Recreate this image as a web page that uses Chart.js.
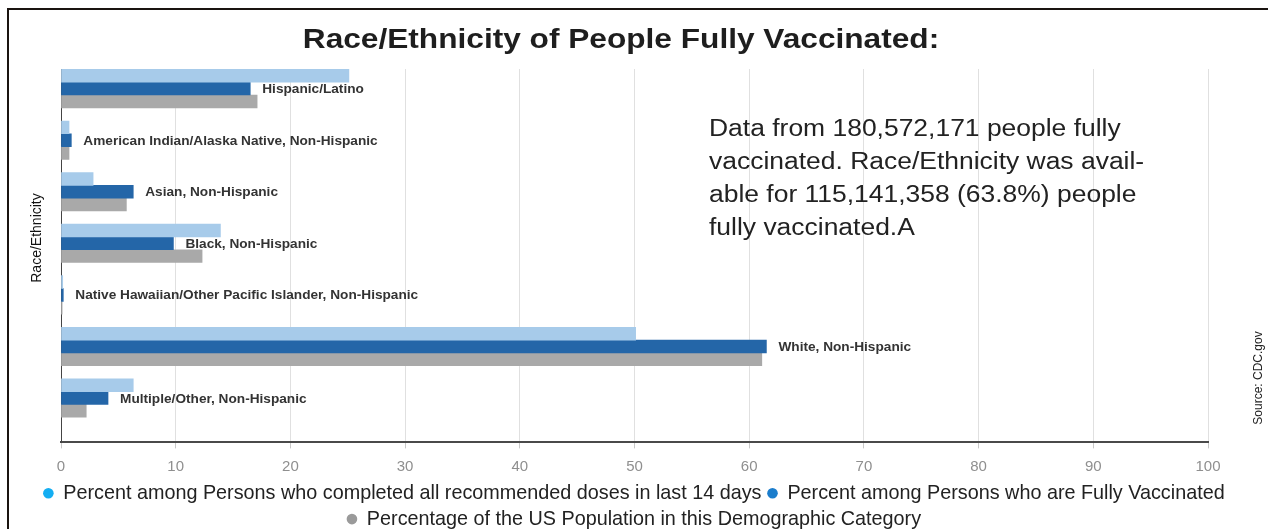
<!DOCTYPE html>
<html>
<head>
<meta charset="utf-8">
<script src="https://cdn.jsdelivr.net/npm/chart.js@4.4.1/dist/chart.umd.min.js"></script>
<style>
html,body{margin:0;padding:0;background:#fff;}
#wrap{position:relative;width:1268px;height:529px;overflow:hidden;}
#frame{position:absolute;left:7px;top:8px;right:-5px;bottom:-5px;border-left:2px solid #1a1410;border-top:2px solid #1a1410;pointer-events:none;}
</style>
</head>
<body>
<div id="wrap"><canvas id="chart" width="1268" height="529"></canvas><div id="frame"></div></div>
<script>
const categories=['Hispanic/Latino','American Indian/Alaska Native, Non-Hispanic','Asian, Non-Hispanic','Black, Non-Hispanic','Native Hawaiian/Other Pacific Islander, Non-Hispanic','White, Non-Hispanic','Multiple/Other, Non-Hispanic'];
const last14Days=[25.1,0.7,2.8,13.9,0.15,50.1,6.3];
const fullyVaccinated=[16.5,0.9,6.3,9.8,0.2,61.5,4.1];
const usPopulation=[17.1,0.7,5.7,12.3,0.1,61.1,2.2];
const seriesNames=['Percent among Persons who completed all recommended doses in last 14 days','Percent among Persons who are Fully Vaccinated','Percentage of the US Population in this Demographic Category'];
const xTicks=[0,10,20,30,40,50,60,70,80,90,100];
const titleText='Race/Ethnicity of People Fully Vaccinated:';
const noteLines=['Data from 180,572,171 people fully','vaccinated. Race/Ethnicity was avail-','able for 115,141,358 (63.8%) people','fully vaccinated.A'];

const FONT='"Liberation Sans", Arial, Helvetica, sans-serif';
const barColors=['#a7cbea','#2466a8','#a9a9a9'];
const legendColors=['#14aef2','#1b7dcc','#9a9a9a'];

function stretchText(ctx,text,x,y,font,color,sx,align,baseline){
  ctx.save();
  ctx.font=font;ctx.fillStyle=color;ctx.textAlign=align||'left';ctx.textBaseline=baseline||'alphabetic';
  ctx.translate(x,y);ctx.scale(sx,1);ctx.fillText(text,0,0);
  ctx.restore();
}

const textPlugin={
  id:'texts',
  afterDatasetsDraw(chart){
    const ctx=chart.ctx;
    chart.getDatasetMeta(1).data.forEach((bar,i)=>{
      stretchText(ctx,categories[i],bar.x+12,bar.y+1,'bold 13px '+FONT,'#333',1.05,'left','middle');
    });
  },
  afterDraw(chart){
    const ctx=chart.ctx;
    stretchText(ctx,titleText,621,48,'bold 28.5px '+FONT,'#1e1e1e',1.11,'center');
    noteLines.forEach((line,i)=>stretchText(ctx,line,709,136+i*33,'23px '+FONT,'#222',1.15));
    ctx.save();
    ctx.translate(37,238);ctx.rotate(-Math.PI/2);
    ctx.font='14px '+FONT;ctx.fillStyle='#111';ctx.textAlign='center';ctx.textBaseline='middle';
    ctx.fillText('Race/Ethnicity',0,0);
    ctx.restore();
    ctx.save();
    ctx.translate(1259,378);ctx.rotate(-Math.PI/2);
    ctx.font='12px '+FONT;ctx.fillStyle='#222';ctx.textAlign='center';ctx.textBaseline='middle';
    ctx.fillText('Source: CDC.gov',0,0);
    ctx.restore();
  }
};

new Chart(document.getElementById('chart').getContext('2d'),{
  type:'bar',
  data:{
    labels:categories,
    datasets:[
      {label:seriesNames[0],data:last14Days,backgroundColor:barColors[0]},
      {label:seriesNames[1],data:fullyVaccinated,backgroundColor:barColors[1]},
      {label:seriesNames[2],data:usPopulation,backgroundColor:barColors[2]}
    ]
  },
  options:{
    indexAxis:'y',responsive:false,animation:false,
    barThickness:12.8,
    layout:{padding:{top:69,left:0,right:0,bottom:-10}},
    plugins:{
      tooltip:{enabled:false},
      legend:{
        position:'bottom',
        labels:{
          font:{size:19.8,family:FONT},color:'#222',usePointStyle:true,pointStyle:'circle',boxWidth:10,boxHeight:7.5,padding:6,
          generateLabels:chart=>Chart.defaults.plugins.legend.labels.generateLabels(chart).map((item,i)=>Object.assign(item,{fillStyle:legendColors[i],strokeStyle:legendColors[i],lineWidth:0}))
        }
      }
    },
    scales:{
      x:{
        min:0,max:100,
        afterBuildTicks:s=>{s.ticks=xTicks.map(value=>({value}));},
        afterFit:s=>{s.height=35;},
        grid:{color:'#e0e0e0',tickColor:'#c8c8c8',tickLength:6},
        border:{color:'#4a4a4a',width:2},
        ticks:{color:'#8f8f8f',font:{size:15,family:FONT},padding:9}
      },
      y:{
        afterBuildTicks:s=>{s._startValue=-0.38;s._valueRange=7.24;},
        afterFit:s=>{s.width=61;},
        grid:{display:false},
        border:{color:'#444',width:1},
        ticks:{display:false}
      },
      side:{
        type:'linear',position:'right',
        afterFit:s=>{s.width=60;},
        grid:{display:false},border:{display:false},ticks:{display:false}
      }
    }
  },
  plugins:[textPlugin]
});
</script>
</body>
</html>
